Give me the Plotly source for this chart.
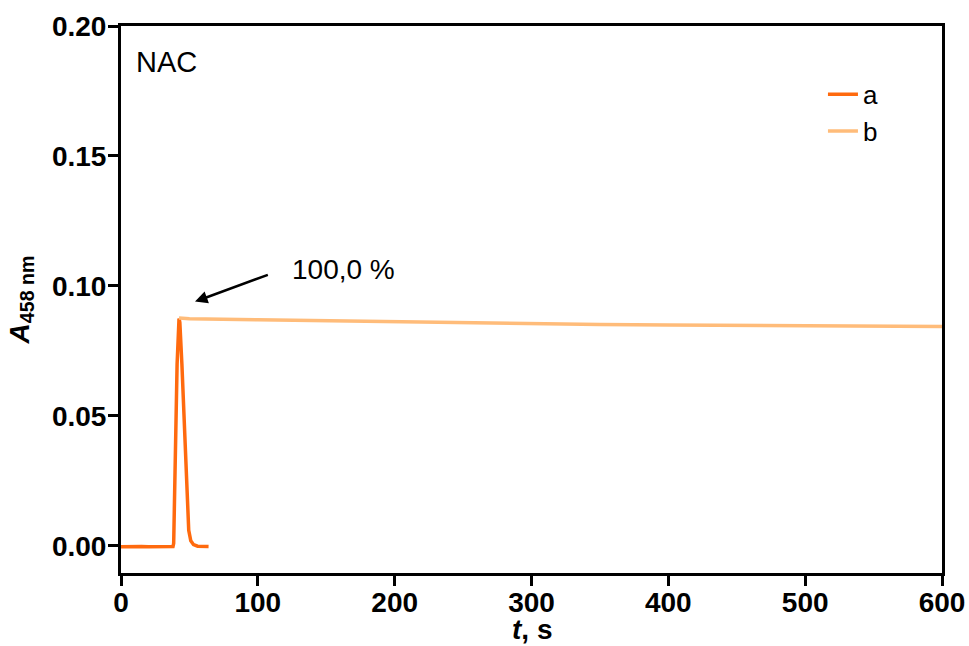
import plotly.graph_objects as go

# Series a: injection peak
t_a = [0, 5, 10, 15, 20, 25, 30, 35, 38, 38.5, 39.2, 40, 41, 42.4, 43, 44.5, 46, 47.5, 48.5, 49.5, 51, 53, 56, 60, 64]
a_vals = [-0.0003, -0.0002, -0.0003, -0.0002, -0.0003, -0.0003, -0.0002, -0.0003, -0.0002, 0.001, 0.02,
          0.045, 0.07, 0.0875, 0.086, 0.07, 0.05, 0.03, 0.015, 0.006, 0.002, 0.0005, -0.0001, -0.0002, -0.0002]

# Series b: plateau after peak
t_b = [42.4, 50, 100, 150, 200, 250, 300, 350, 400, 450, 500, 550, 600]
b_vals = [0.0877, 0.0874, 0.0870, 0.0866, 0.0862, 0.0858, 0.0855, 0.0852, 0.0850, 0.0849, 0.0848, 0.0847, 0.0844]

x_ticks = [0, 100, 200, 300, 400, 500, 600]
y_ticks = [0.00, 0.05, 0.10, 0.15, 0.20]

FONT = "Liberation Sans, Arial, sans-serif"

fig = go.Figure()
fig.add_trace(go.Scatter(x=t_a, y=a_vals, mode="lines", name="a",
                         line=dict(color="#FF6A0E", width=3.5)))
fig.add_trace(go.Scatter(x=t_b, y=b_vals, mode="lines", name="b",
                         line=dict(color="#FFBC7A", width=3.5)))

axis_common = dict(showline=True, linecolor="black", linewidth=3, mirror=True,
                   ticks="outside", ticklen=10, tickwidth=3, tickcolor="black",
                   showgrid=False, zeroline=False, automargin=False,
                   tickfont=dict(family=FONT, size=28, color="black", weight="bold"))

fig.update_xaxes(range=[0, 600], tickvals=x_ticks, ticktext=[str(v) for v in x_ticks],
                 ticklabelstandoff=-8, **axis_common)
fig.update_yaxes(range=[-0.0104, 0.2], tickvals=y_ticks, tickformat=".2f",
                 ticklabelstandoff=-4,
                 title=dict(text="<b><i>A</i><sub>458 nm</sub></b>",
                            font=dict(family=FONT, size=28, color="black"), standoff=15),
                 **axis_common)

# x-axis title
fig.add_annotation(x=0.5, y=-0.104, xref="paper", yref="paper", text="<b><i>t</i>, s</b>",
                   showarrow=False, xanchor="center", yanchor="middle",
                   font=dict(family=FONT, size=28, color="black"))

fig.add_annotation(x=54.1, y=0.0940, ax=108.4, ay=0.1045, axref="x", ayref="y",
                   xref="x", yref="y", text="", showarrow=True,
                   arrowhead=2, arrowsize=1, arrowwidth=2.5, arrowcolor="black")
fig.add_annotation(x=123.5, y=0.1065, xref="x", yref="y", text="100,0 %",
                   showarrow=False, xanchor="left", yanchor="middle",
                   font=dict(family=FONT, size=28, color="black"))
fig.add_annotation(x=0.016, y=0.967, xref="paper", yref="paper", text="NAC",
                   showarrow=False, xanchor="left", yanchor="top",
                   font=dict(family=FONT, size=29, color="black"))

fig.update_layout(
    width=969, height=646,
    margin=dict(l=121, r=27, t=26, b=73),
    paper_bgcolor="white", plot_bgcolor="white",
    legend=dict(x=0.855, y=0.918, xanchor="left", yanchor="top",
                font=dict(family=FONT, size=26, color="black"),
                bgcolor="rgba(0,0,0,0)", tracegroupgap=0),
)

fig.write_html("out.html", config={"displayModeBar": False},
               post_script="document.body.style.margin='0';document.body.style.overflow='hidden';")
